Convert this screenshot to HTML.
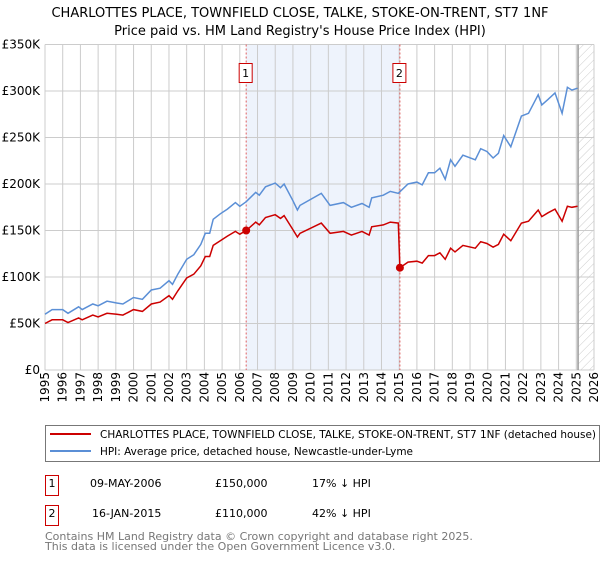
<!DOCTYPE html>
<html><head><meta charset="utf-8"><style>
body{margin:0;background:#fff;font-family:"DejaVu Sans","Liberation Sans",sans-serif;}
svg text{font-family:"DejaVu Sans","Liberation Sans",sans-serif;}
</style></head><body>
<svg id="c" width="600" height="560" xmlns="http://www.w3.org/2000/svg">
<defs><pattern id="hatch" width="6" height="6" patternUnits="userSpaceOnUse" patternTransform="rotate(45)"><line x1="0" y1="0" x2="0" y2="6" stroke="#ccc" stroke-width="1"/></pattern></defs>
<text x="300" y="17" text-anchor="middle" font-size="13">CHARLOTTES PLACE, TOWNFIELD CLOSE, TALKE, STOKE-ON-TRENT, ST7 1NF</text>
<text x="300" y="35" text-anchor="middle" font-size="13">Price paid vs. HM Land Registry's House Price Index (HPI)</text>
<g id="plot"></g>
<rect x="45.5" y="425.5" width="554" height="36" fill="none" stroke="#777"/>
<line x1="50" y1="434" x2="91" y2="434" stroke="#cc0000" stroke-width="2"/>
<text x="100" y="438" font-size="11" textLength="496" lengthAdjust="spacingAndGlyphs">CHARLOTTES PLACE, TOWNFIELD CLOSE, TALKE, STOKE-ON-TRENT, ST7 1NF (detached house)</text>
<line x1="50" y1="451" x2="91" y2="451" stroke="#5b8fd6" stroke-width="2"/>
<text x="100" y="455" font-size="11" textLength="313" lengthAdjust="spacingAndGlyphs">HPI: Average price, detached house, Newcastle-under-Lyme</text>
<g font-size="11">
<rect x="45.5" y="475.5" width="13" height="20" fill="#fff" stroke="#cc0000"/><text x="52" y="487" text-anchor="middle">1</text>
<text x="90" y="487">09-MAY-2006</text><text x="215" y="487">£150,000</text><text x="312" y="487">17% ↓ HPI</text></g>
<g font-size="11">
<rect x="45.5" y="505.5" width="13" height="20" fill="#fff" stroke="#cc0000"/><text x="52" y="517" text-anchor="middle">2</text>
<text x="92" y="517">16-JAN-2015</text><text x="215" y="517">£110,000</text><text x="312" y="517">42% ↓ HPI</text></g>
<text x="45" y="540" font-size="11" fill="#777">Contains HM Land Registry data © Crown copyright and database right 2025.</text>
<text x="45" y="550" font-size="11" fill="#777">This data is licensed under the Open Government Licence v3.0.</text>
</svg>
<script>
const hpiDates=[1995.0,1995.4,1996.0,1996.3,1996.9,1997.1,1997.7,1998.0,1998.5,1999.05,1999.4,2000.0,2000.5,2001.0,2001.5,2002.0,2002.2,2002.5,2003.0,2003.4,2003.8,2004.05,2004.3,2004.5,2004.9,2005.3,2005.75,2006.0,2006.36,2006.9,2007.1,2007.45,2008.0,2008.3,2008.5,2009.0,2009.25,2009.4,2010.6,2011.1,2011.85,2012.3,2012.9,2013.3,2013.45,2014.1,2014.5,2014.95,2015.5,2016.0,2016.3,2016.65,2017.0,2017.3,2017.6,2017.9,2018.15,2018.6,2019.3,2019.6,2019.95,2020.3,2020.6,2020.9,2021.3,2021.9,2022.3,2022.85,2023.05,2023.4,2023.8,2024.2,2024.5,2024.75,2025.07];
const hpiValues=[60,65,65,61,68,65,71,69,74,72,71,78,76,86,88,96,92,103,119,124,135,147,147,162,168,173,180,176,181,191,188,197,201,196,200,182,172,177,190,177,180,175,179,175,185,188,192,190,200,202,199,212,212,217,205,226,219,231,226,238,235,228,233,252,240,273,276,296,285,291,298,276,304,301,303];
const priceDates=[1995.0,1995.4,1996.0,1996.3,1996.9,1997.1,1997.7,1998.0,1998.5,1999.05,1999.4,2000.0,2000.5,2001.0,2001.5,2002.0,2002.2,2002.5,2003.0,2003.4,2003.8,2004.05,2004.3,2004.5,2004.9,2005.3,2005.75,2006.0,2006.36,2006.9,2007.1,2007.45,2008.0,2008.3,2008.5,2009.0,2009.25,2009.4,2010.6,2011.1,2011.85,2012.3,2012.9,2013.3,2013.45,2014.1,2014.5,2014.95,2015.04,2015.5,2016.0,2016.3,2016.65,2017.0,2017.3,2017.6,2017.9,2018.15,2018.6,2019.3,2019.6,2019.95,2020.3,2020.6,2020.9,2021.3,2021.9,2022.3,2022.85,2023.05,2023.4,2023.8,2024.2,2024.5,2024.75,2025.07];
const priceValues=[50,54,54,51,56,54,59,57,61,60,59,65,63,71,73,80,76,85,99,103,112,122,122,134,139,144,149,146,150,159,156,164,167,163,166,151,143,147,158,147,149,145,149,145,154,156,159,158,110,116,117,115,123,123,126,119,131,127,134,131,138,136,132,135,146,139,158,160,172,165,169,173,160,176,175,176];
const saleDates=[2006.36,2015.04];
const saleValues=[150,110];
const saleLabels=["1","2"];
const yTicks=[0,50,100,150,200,250,300,350];
const yTickLabels=["£0","£50K","£100K","£150K","£200K","£250K","£300K","£350K"];
const xYears=[1995,1996,1997,1998,1999,2000,2001,2002,2003,2004,2005,2006,2007,2008,2009,2010,2011,2012,2013,2014,2015,2016,2017,2018,2019,2020,2021,2022,2023,2024,2025,2026];
const dataEnd=2025.1;

const X0=45,X1=594,Y0=370,Y1=44.5;
const xs=t=>X0+(t-1995)/(2026-1995)*(X1-X0);
const ys=v=>Y0-v/350*(Y0-Y1);
const NS="http://www.w3.org/2000/svg";
const g=document.getElementById('plot');
function mk(tag,attrs,parent){const e=document.createElementNS(NS,tag);for(const k in attrs)e.setAttribute(k,attrs[k]);(parent||g).appendChild(e);return e;}

let r=mk('rect',{x:xs(saleDates[0]),y:Y1,width:xs(saleDates[1])-xs(saleDates[0]),height:Y0-Y1,fill:'#eef3fc'});


let h=mk('rect',{x:xs(dataEnd),y:Y1,width:X1-xs(dataEnd),height:Y0-Y1,fill:'url(#hatch)'});



xYears.forEach(y=>{
  const l=mk('line',{x1:xs(y),x2:xs(y),y1:Y1,y2:Y0,stroke:'#ccc','stroke-width':1});
  
  
  const t=mk('text',{x:0,y:0,'font-size':12,'text-anchor':'end',transform:`translate(${xs(y)+4},372) rotate(-90)`});
  t.textContent=y;
  
  
});
yTicks.forEach((v,i)=>{
  const l=mk('line',{x1:X0,x2:X1,y1:ys(v),y2:ys(v),stroke:'#ccc','stroke-width':1});
  
  
  const t=mk('text',{x:40,y:ys(v)+4,'font-size':12,'text-anchor':'end'});
  t.textContent=yTickLabels[i];
  
  
});
let el=mk('line',{x1:xs(dataEnd),x2:xs(dataEnd),y1:Y1,y2:Y0,stroke:'#999','stroke-width':1.5});



saleDates.forEach((d,i)=>{
  const l=mk('line',{x1:xs(d),x2:xs(d),y1:Y1,y2:Y0,stroke:'#e06060','stroke-width':1,'stroke-dasharray':'2,2'});
  
  
  const b=mk('rect',{x:xs(d)-7,y:63.5,width:13,height:19,fill:'#fff',stroke:'#cc0000'});
  
  
  const t=mk('text',{x:xs(d)-0.5,y:77,'font-size':11,'text-anchor':'middle'});
  t.textContent=saleLabels[i];
  
  
});

function path(ds,vs){return ds.map((d,i)=>(i?'L':'M')+xs(d).toFixed(1)+','+ys(vs[i]).toFixed(1)).join('');}
let hp=mk('path',{d:path(hpiDates,hpiValues),fill:'none',stroke:'#5b8fd6','stroke-width':1.5});


let pp=mk('path',{d:path(priceDates,priceValues),fill:'none',stroke:'#cc0000','stroke-width':1.5});


saleDates.forEach((d,i)=>{
  const c=mk('circle',{cx:xs(d),cy:ys(saleValues[i]),r:4,fill:'#cc0000'});
  
  
});
</script>
</body></html>
